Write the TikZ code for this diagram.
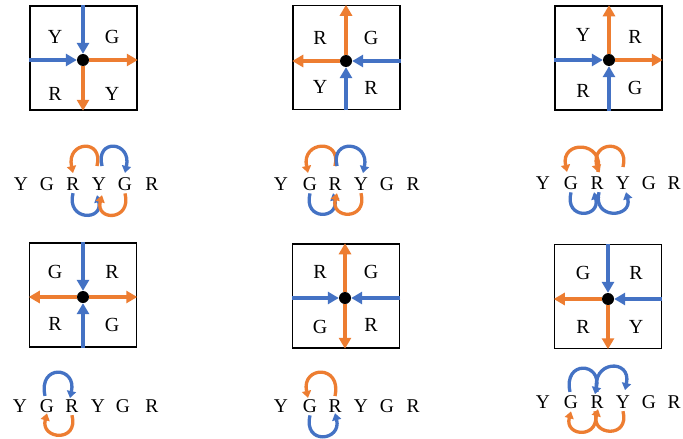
\documentclass[tikz,border=0pt]{standalone}
\usepackage{fontspec}
\setmainfont{Liberation Serif}
\usetikzlibrary{arrows.meta}
\definecolor{cblue}{HTML}{4472C4}
\definecolor{corange}{HTML}{ED7D31}
\begin{document}
\begin{tikzpicture}[x=1pt,y=-1pt,
  sq/.style={draw=black,line width=1.5pt,minimum width=107pt,minimum height=104pt,inner sep=0pt},
  dotnode/.style={circle,fill=black,minimum size=12pt,inner sep=0pt},
  ltr/.style={font=\fontsize{20}{21}\selectfont,inner sep=0pt},
  rowl/.style={font=\fontsize{19.5}{20}\selectfont,inner sep=0pt,anchor=base},
  barr/.style={draw=cblue,line width=4pt,-{Triangle[length=11pt,width=12pt]}},
  oarr/.style={draw=corange,line width=4pt,-{Triangle[length=11pt,width=12pt]}},
  barc/.style={draw=cblue,line width=3.3pt,-{Triangle[length=7pt,width=9pt]}},
  oarc/.style={draw=corange,line width=3.3pt,-{Triangle[length=7pt,width=9pt]}},
]
\useasboundingbox (0,0) rectangle (683,439);
\fill[white] (0,0) rectangle (683,439);

% ---------- Panel 1 ----------
\node[sq] (sq1) at (83.5,58) {};
\node[dotnode] (d1) at (83,60) {};
\node[ltr] (p1a) at (55,37) {Y};
\node[ltr] (p1b) at (112,37) {G};
\node[ltr] (p1c) at (55,94) {R};
\node[ltr] (p1d) at (112,94) {Y};
\draw[barr] (sq1.north -| d1) -- (d1);
\draw[barr] (sq1.west |- d1) -- (d1);
\draw[oarr] (d1) -- (sq1.east |- d1);
\draw[oarr] (d1) -- (sq1.south -| d1);

% ---------- Panel 2 ----------
\node[sq] (sq2) at (346.5,57.5) {};
\node[dotnode] (d2) at (346,61) {};
\node[ltr] (p2a) at (320,38) {R};
\node[ltr] (p2b) at (371,38) {G};
\node[ltr] (p2c) at (320,87) {Y};
\node[ltr] (p2d) at (371,88) {R};
\draw[oarr] (d2) -- (sq2.north -| d2);
\draw[oarr] (d2) -- (sq2.west |- d2);
\draw[barr] (sq2.east |- d2) -- (d2);
\draw[barr] (sq2.south -| d2) -- (d2);

% ---------- Panel 3 ----------
\node[sq] (sq3) at (608.5,58) {};
\node[dotnode] (d3) at (609,60) {};
\node[ltr] (p3a) at (583,35) {Y};
\node[ltr] (p3b) at (635,37) {R};
\node[ltr] (p3c) at (583,91) {R};
\node[ltr] (p3d) at (635,88) {G};
\draw[oarr] (d3) -- (sq3.north -| d3);
\draw[oarr] (d3) -- (sq3.east |- d3);
\draw[barr] (sq3.west |- d3) -- (d3);
\draw[barr] (sq3.south -| d3) -- (d3);

% ---------- Panel 4 ----------
\node[sq] (sq4) at (83,295) {};
\node[dotnode] (d4) at (83,297) {};
\node[ltr] (p4a) at (55,272) {G};
\node[ltr] (p4b) at (112,272) {R};
\node[ltr] (p4c) at (55,324) {R};
\node[ltr] (p4d) at (112,325) {G};
\draw[barr] (sq4.north -| d4) -- (d4);
\draw[barr] (sq4.south -| d4) -- (d4);
\draw[oarr] (d4) -- (sq4.west |- d4);
\draw[oarr] (d4) -- (sq4.east |- d4);

% ---------- Panel 5 ----------
\node[sq] (sq5) at (346,296) {};
\node[dotnode] (d5) at (345,298) {};
\node[ltr] (p5a) at (320,272) {R};
\node[ltr] (p5b) at (371,272) {G};
\node[ltr] (p5c) at (320,327) {G};
\node[ltr] (p5d) at (371,325) {R};
\draw[oarr] (d5) -- (sq5.north -| d5);
\draw[oarr] (d5) -- (sq5.south -| d5);
\draw[barr] (sq5.west |- d5) -- (d5);
\draw[barr] (sq5.east |- d5) -- (d5);

% ---------- Panel 6 ----------
\node[sq] (sq6) at (608,296.5) {};
\node[dotnode] (d6) at (608,299) {};
\node[ltr] (p6a) at (583,273) {G};
\node[ltr] (p6b) at (636,273) {R};
\node[ltr] (p6c) at (583,327) {R};
\node[ltr] (p6d) at (636,327) {Y};
\draw[barr] (sq6.north -| d6) -- (d6);
\draw[barr] (sq6.east |- d6) -- (d6);
\draw[oarr] (d6) -- (sq6.west |- d6);
\draw[oarr] (d6) -- (sq6.south -| d6);

% ---------- Row 1 left ----------
\node[rowl] (a1) at (21,190) {Y};
\node[rowl] (a2) at (47,190) {G};
\node[rowl] (a3) at (73,190) {R};
\node[rowl] (a4) at (99,190) {Y};
\node[rowl] (a5) at (125,190) {G};
\node[rowl] (a6) at (152,190) {R};
\draw[oarc] ([xshift=-2pt,yshift=11pt]a4.north) .. controls +(7,-28) and +(-7,-32) .. ([yshift=4pt]a3.north);
\draw[barc] ([xshift=3pt,yshift=11pt]a4.north) .. controls +(-7,-28) and +(7,-32) .. ([yshift=4pt]a5.north);
\draw[barc] ([yshift=-3pt]a3.south) .. controls +(-7,28) and +(7,26) .. ([xshift=-2pt,yshift=-5pt]a4.south);
\draw[oarc] ([yshift=-3pt]a5.south) .. controls +(7,28) and +(-7,26) .. ([xshift=3pt,yshift=-5pt]a4.south);

% ---------- Row 1 middle ----------
\node[rowl] (b1) at (281,190) {Y};
\node[rowl] (b2) at (310,190) {G};
\node[rowl] (b3) at (335,190) {R};
\node[rowl] (b4) at (361,190) {Y};
\node[rowl] (b5) at (387,190) {G};
\node[rowl] (b6) at (413,190) {R};
\draw[oarc] ([yshift=11pt]b3.north) .. controls +(7,-28) and +(-7,-32) .. ([xshift=-2pt,yshift=4pt]b2.north);
\draw[barc] ([xshift=2pt,yshift=11pt]b3.north) .. controls +(-7,-28) and +(7,-32) .. ([xshift=2pt,yshift=4pt]b4.north);
\draw[barc] ([yshift=-3pt]b2.south) .. controls +(-7,28) and +(7,26) .. ([xshift=-2pt,yshift=-3pt]b3.south);
\draw[oarc] ([yshift=-3pt]b4.south) .. controls +(7,28) and +(-7,26) .. ([xshift=2pt,yshift=-3pt]b3.south);

% ---------- Row 1 right ----------
\node[rowl] (c1) at (543,189) {Y};
\node[rowl] (c2) at (571,189) {G};
\node[rowl] (c3) at (597,189) {R};
\node[rowl] (c4) at (623,189) {Y};
\node[rowl] (c5) at (649,189) {G};
\node[rowl] (c6) at (674,189) {R};
\draw[oarc] ([yshift=9pt]c4.north) .. controls +(7,-28) and +(-7,-32) .. ([xshift=1pt,yshift=4pt]c3.north);
\draw[oarc] ([xshift=1pt,yshift=4pt]c3.north) .. controls +(7,-32) and +(-7,-32) .. ([xshift=-4pt,yshift=4pt]c2.north);
\draw[barc] ([yshift=-3pt]c2.south) .. controls +(-7,28) and +(7,26) .. ([xshift=-3pt,yshift=-3pt]c3.south);
\draw[barc] ([xshift=2pt,yshift=-3pt]c3.south) .. controls +(-7,28) and +(7,26) .. ([xshift=3pt,yshift=-3pt]c4.south);

% ---------- Row 2 left ----------
\node[rowl] (e1) at (20,412) {Y};
\node[rowl] (e2) at (47,412) {G};
\node[rowl] (e3) at (72,412) {R};
\node[rowl] (e4) at (98,412) {Y};
\node[rowl] (e5) at (123,412) {G};
\node[rowl] (e6) at (152,412) {R};
\draw[barc] ([xshift=-2pt,yshift=3pt]e2.north) .. controls +(-7,-32) and +(7,-32) .. ([xshift=-2pt,yshift=1pt]e3.north);
\draw[oarc] ([yshift=-3pt]e3.south) .. controls +(7,28) and +(-7,26) .. ([yshift=-1pt]e2.south);

% ---------- Row 2 middle ----------
\node[rowl] (f1) at (281,412) {Y};
\node[rowl] (f2) at (310,412) {G};
\node[rowl] (f3) at (335,412) {R};
\node[rowl] (f4) at (361,412) {Y};
\node[rowl] (f5) at (387,412) {G};
\node[rowl] (f6) at (413,412) {R};
\draw[oarc] ([yshift=3pt]f3.north) .. controls +(7,-32) and +(-7,-32) .. ([xshift=-2pt,yshift=1pt]f2.north);
\draw[barc] ([yshift=-3pt]f2.south) .. controls +(-7,30) and +(7,28) .. ([yshift=-1pt]f3.south);

% ---------- Row 2 right ----------
\node[rowl] (g1) at (543,408) {Y};
\node[rowl] (g2) at (571,408) {G};
\node[rowl] (g3) at (597,408) {R};
\node[rowl] (g4) at (623,408) {Y};
\node[rowl] (g5) at (649,408) {G};
\node[rowl] (g6) at (674,408) {R};
\draw[barc] ([xshift=-1pt,yshift=3pt]g2.north) .. controls +(-7,-32) and +(7,-32) .. ([xshift=-2pt,yshift=1pt]g3.north);
\draw[barc] ([yshift=3pt]g3.north) .. controls +(-7,-32) and +(7,-32) .. ([xshift=2pt,yshift=5pt]g4.north);
\draw[oarc] ([yshift=-3pt]g4.south) .. controls +(7,28) and +(-7,26) .. ([xshift=1pt,yshift=-1pt]g3.south);
\draw[oarc] ([xshift=-2pt,yshift=-3pt]g3.south) .. controls +(7,28) and +(-7,26) .. ([yshift=-3pt]g2.south);
\end{tikzpicture}
\end{document}
